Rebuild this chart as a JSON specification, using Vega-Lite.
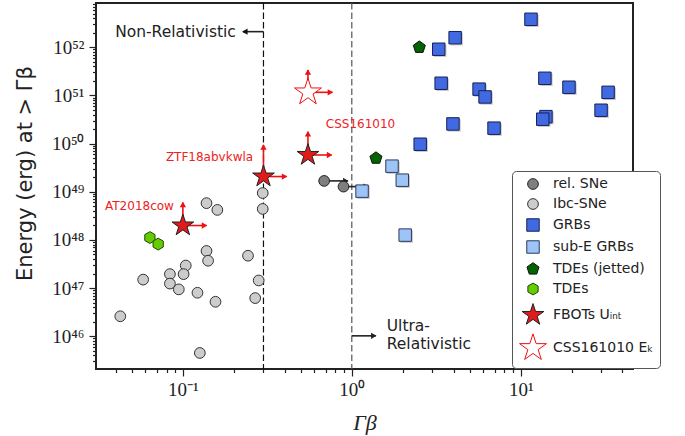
{
  "$schema": "https://vega.github.io/schema/vega-lite/v6.json",
  "width": 537,
  "height": 366,
  "autosize": "none",
  "padding": {"left": 96, "top": 3, "right": 52, "bottom": 67},
  "background": "white",
  "config": {
    "view": {"stroke": "#222", "strokeWidth": 2},
    "axis": {"grid": false, "domain": false, "tickColor": "#222", "tickWidth": 1.2, "labelColor": "#222", "titleColor": "#222"}
  },
  "datasets": {
    "pts": [
      {"g": "rel. SNe", "x": 0.686, "y": 1.68e49},
      {"g": "rel. SNe", "x": 0.893, "y": 1.28e49},
      {"g": "Ibc-SNe", "x": 0.138, "y": 5.8e48},
      {"g": "Ibc-SNe", "x": 0.160, "y": 4.2e48},
      {"g": "Ibc-SNe", "x": 0.297, "y": 9.4e48},
      {"g": "Ibc-SNe", "x": 0.297, "y": 4.4e48},
      {"g": "Ibc-SNe", "x": 0.138, "y": 5.9e47},
      {"g": "Ibc-SNe", "x": 0.141, "y": 3.7e47},
      {"g": "Ibc-SNe", "x": 0.243, "y": 4.7e47},
      {"g": "Ibc-SNe", "x": 0.0582, "y": 1.5e47},
      {"g": "Ibc-SNe", "x": 0.0838, "y": 1.95e47},
      {"g": "Ibc-SNe", "x": 0.0838, "y": 1.24e47},
      {"g": "Ibc-SNe", "x": 0.104, "y": 2.94e47},
      {"g": "Ibc-SNe", "x": 0.101, "y": 1.95e47},
      {"g": "Ibc-SNe", "x": 0.0946, "y": 9.4e46},
      {"g": "Ibc-SNe", "x": 0.122, "y": 8.0e46},
      {"g": "Ibc-SNe", "x": 0.156, "y": 5.2e46},
      {"g": "Ibc-SNe", "x": 0.281, "y": 1.44e47},
      {"g": "Ibc-SNe", "x": 0.268, "y": 6.2e46},
      {"g": "Ibc-SNe", "x": 0.0426, "y": 2.6e46},
      {"g": "Ibc-SNe", "x": 0.126, "y": 4.5e45},
      {"g": "GRBs", "x": 3.27, "y": 9.1e51},
      {"g": "GRBs", "x": 4.09, "y": 1.58e52},
      {"g": "GRBs", "x": 3.38, "y": 1.79e51},
      {"g": "GRBs", "x": 5.67, "y": 1.35e51},
      {"g": "GRBs", "x": 6.15, "y": 9.3e50},
      {"g": "GRBs", "x": 3.97, "y": 2.56e50},
      {"g": "GRBs", "x": 2.54, "y": 9.7e49},
      {"g": "GRBs", "x": 6.95, "y": 2.09e50},
      {"g": "GRBs", "x": 11.5, "y": 3.81e52},
      {"g": "GRBs", "x": 13.9, "y": 2.27e51},
      {"g": "GRBs", "x": 19.3, "y": 1.48e51},
      {"g": "GRBs", "x": 32.9, "y": 1.16e51},
      {"g": "GRBs", "x": 29.9, "y": 4.93e50},
      {"g": "GRBs", "x": 14.1, "y": 3.63e50},
      {"g": "GRBs", "x": 13.5, "y": 3.21e50},
      {"g": "sub-E GRBs", "x": 1.73, "y": 3.4e49},
      {"g": "sub-E GRBs", "x": 1.99, "y": 1.74e49},
      {"g": "sub-E GRBs", "x": 1.15, "y": 1.03e49},
      {"g": "sub-E GRBs", "x": 2.07, "y": 1.26e48},
      {"g": "TDEs (jetted)", "x": 2.51, "y": 1.0e52},
      {"g": "TDEs (jetted)", "x": 1.39, "y": 4.98e49},
      {"g": "TDEs", "x": 0.0638, "y": 1.12e48},
      {"g": "TDEs", "x": 0.0714, "y": 8.2e47},
      {"g": "FBOTs Uᵢₙₜ", "x": 0.1, "y": 1.99e48},
      {"g": "FBOTs Uᵢₙₜ", "x": 0.3, "y": 2.07e49},
      {"g": "FBOTs Uᵢₙₜ", "x": 0.55, "y": 5.8e49},
      {"g": "CSS161010 Eₖ", "x": 0.55, "y": 1.16e51}
    ],
    "arrows": [
      {"c": "fbot", "d": "up", "x": 0.1, "y": 1.99e48, "x2": 0.1, "y2": 5.97e48},
      {"c": "fbot", "d": "right", "x": 0.1, "y": 1.99e48, "x2": 0.138, "y2": 1.99e48},
      {"c": "fbot", "d": "up", "x": 0.3, "y": 2.07e49, "x2": 0.3, "y2": 9.4e49},
      {"c": "fbot", "d": "right", "x": 0.3, "y": 2.07e49, "x2": 0.411, "y2": 2.07e49},
      {"c": "fbot", "d": "up", "x": 0.55, "y": 5.8e49, "x2": 0.55, "y2": 1.77e50},
      {"c": "fbot", "d": "right", "x": 0.55, "y": 5.8e49, "x2": 0.759, "y2": 5.8e49},
      {"c": "fbot", "d": "up", "x": 0.55, "y": 1.16e51, "x2": 0.55, "y2": 3.38e51},
      {"c": "fbot", "d": "right", "x": 0.55, "y": 1.16e51, "x2": 0.768, "y2": 1.16e51},
      {"c": "rel", "d": "right", "x": 0.686, "y": 1.68e49, "x2": 0.947, "y2": 1.68e49},
      {"c": "rel", "d": "right", "x": 0.893, "y": 1.28e49, "x2": 1.249, "y2": 1.28e49},
      {"c": "guide", "d": "left", "x": 0.3, "y": 2.11e52, "x2": 0.2265, "y2": 2.11e52},
      {"c": "guide", "d": "right", "x": 1, "y": 1.02e46, "x2": 1.387, "y2": 1.02e46}
    ],
    "vlines": [
      {"x": 0.3, "k": "nr"},
      {"x": 1, "k": "ur"}
    ],
    "labels": [
      {"t": "Non-Relativistic", "x": 0.206, "y": 2.11e52, "k": "gR"},
      {"t": "Ultra-", "x": 1.61, "y": 1.67e46, "k": "gL"},
      {"t": "Relativistic", "x": 1.61, "y": 6.76e45, "k": "gL"},
      {"t": "AT2018cow", "x": 0.0885, "y": 5.1e48, "k": "rR"},
      {"t": "ZTF18abvkwla", "x": 0.2606, "y": 5.3e49, "k": "rR"},
      {"t": "CSS161010", "x": 0.7015, "y": 2.56e50, "k": "rL"}
    ]
  },
  "layer": [
    {
      "data": {"name": "vlines"},
      "mark": {"type": "rule", "strokeDash": [6.5, 3], "strokeWidth": 1.2},
      "encoding": {
        "x": {"field": "x", "type": "quantitative", "scale": {"type": "log", "domain": [0.0306, 46.2], "nice": false}},
        "color": {"condition": {"test": "datum.k == 'nr'", "value": "#111"}, "value": "#555"}
      }
    },
    {
      "data": {"name": "arrows"},
      "mark": {"type": "rule", "strokeWidth": 1.6},
      "encoding": {
        "x": {"field": "x", "type": "quantitative", "scale": {"type": "log", "domain": [0.0306, 46.2], "nice": false}},
        "y": {"field": "y", "type": "quantitative", "scale": {"type": "log", "domain": [2.09e45, 8.3e52], "nice": false}},
        "x2": {"field": "x2"},
        "y2": {"field": "y2"},
        "color": {"condition": {"test": "datum.c == 'fbot'", "value": "#ee1111"}, "value": "#222"}
      }
    },
    {
      "data": {"name": "arrows"},
      "transform": [{"filter": "datum.d == 'right'"}],
      "mark": {"type": "point", "shape": "triangle-right", "filled": true, "opacity": 1, "size": 40, "xOffset": -2},
      "encoding": {
        "x": {"field": "x2", "type": "quantitative", "scale": {"type": "log", "domain": [0.0306, 46.2], "nice": false}},
        "y": {"field": "y", "type": "quantitative", "scale": {"type": "log", "domain": [2.09e45, 8.3e52], "nice": false}},
        "color": {"condition": {"test": "datum.c == 'fbot'", "value": "#ee1111"}, "value": "#222"}
      }
    },
    {
      "data": {"name": "arrows"},
      "transform": [{"filter": "datum.d == 'left'"}],
      "mark": {"type": "point", "shape": "triangle-left", "filled": true, "opacity": 1, "size": 40, "xOffset": 2},
      "encoding": {
        "x": {"field": "x2", "type": "quantitative", "scale": {"type": "log", "domain": [0.0306, 46.2], "nice": false}},
        "y": {"field": "y", "type": "quantitative", "scale": {"type": "log", "domain": [2.09e45, 8.3e52], "nice": false}},
        "color": {"value": "#111"}
      }
    },
    {
      "data": {"name": "arrows"},
      "transform": [{"filter": "datum.d == 'up'"}],
      "mark": {"type": "point", "shape": "triangle-up", "filled": true, "opacity": 1, "size": 40, "yOffset": 2},
      "encoding": {
        "x": {"field": "x", "type": "quantitative", "scale": {"type": "log", "domain": [0.0306, 46.2], "nice": false}},
        "y": {"field": "y2", "type": "quantitative", "scale": {"type": "log", "domain": [2.09e45, 8.3e52], "nice": false}},
        "color": {"value": "#ee1111"}
      }
    },
    {
      "data": {"name": "pts"},
      "transform": [{"filter": "datum.g == 'GRBs' || datum.g == 'sub-E GRBs'"}],
      "mark": {"type": "point", "shape": "square", "filled": true, "color": "#9a9a9a", "opacity": 0.55, "size": 155, "xOffset": 1.5, "yOffset": 1.5},
      "encoding": {
        "x": {"field": "x", "type": "quantitative", "scale": {"type": "log", "domain": [0.0306, 46.2], "nice": false}},
        "y": {"field": "y", "type": "quantitative", "scale": {"type": "log", "domain": [2.09e45, 8.3e52], "nice": false}}
      }
    },
    {
      "data": {"name": "pts"},
      "mark": {"type": "point", "filled": true, "opacity": 1, "strokeWidth": 1},
      "encoding": {
        "x": {
          "field": "x", "type": "quantitative",
          "scale": {"type": "log", "domain": [0.0306, 46.2], "nice": false},
          "axis": {
            "title": "Γβ",
            "values": [0.04, 0.05, 0.06, 0.07, 0.08, 0.09, 0.1, 0.2, 0.3, 0.4, 0.5, 0.6, 0.7, 0.8, 0.9, 1, 2, 3, 4, 5, 6, 7, 8, 9, 10, 20, 30, 40],
            "labelExpr": "datum.value == 0.1 ? '10⁻¹' : datum.value == 1 ? '10⁰' : datum.value == 10 ? '10¹' : ''",
            "tickSize": {"condition": {"test": "datum.value == 0.1 || datum.value == 1 || datum.value == 10", "value": 7}, "value": 3.5},
            "labelOverlap": false,
            "labelBound": false,
            "labelFlush": false,
            "labelFont": "Liberation Serif",
            "labelFontSize": 19,
            "labelPadding": 4,
            "titleFont": "Liberation Serif",
            "titleFontSize": 22,
            "titleFontWeight": "normal",
            "titleFontStyle": "italic",
            "titleY": 53,
            "titleBaseline": "middle"
          }
        },
        "y": {
          "field": "y", "type": "quantitative",
          "scale": {"type": "log", "domain": [2.09e45, 8.3e52], "nice": false},
          "axis": {
            "title": "Energy (erg) at > Γβ",
            "values": [3e45, 4e45, 5e45, 6e45, 7e45, 8e45, 9e45, 1e46, 2e46, 3e46, 4e46, 5e46, 6e46, 7e46, 8e46, 9e46, 1e47, 2e47, 3e47, 4e47, 5e47, 6e47, 7e47, 8e47, 9e47, 1e48, 2e48, 3e48, 4e48, 5e48, 6e48, 7e48, 8e48, 9e48, 1e49, 2e49, 3e49, 4e49, 5e49, 6e49, 7e49, 8e49, 9e49, 1e50, 2e50, 3e50, 4e50, 5e50, 6e50, 7e50, 8e50, 9e50, 1e51, 2e51, 3e51, 4e51, 5e51, 6e51, 7e51, 8e51, 9e51, 1e52, 2e52, 3e52, 4e52, 5e52, 6e52, 7e52, 8e52],
            "labelExpr": "datum.value == 1e46 ? '10⁴⁶' : datum.value == 1e47 ? '10⁴⁷' : datum.value == 1e48 ? '10⁴⁸' : datum.value == 1e49 ? '10⁴⁹' : datum.value == 1e50 ? '10⁵⁰' : datum.value == 1e51 ? '10⁵¹' : datum.value == 1e52 ? '10⁵²' : ''",
            "tickSize": {"condition": {"test": "indexof([1e46, 1e47, 1e48, 1e49, 1e50, 1e51, 1e52], datum.value) >= 0", "value": 7}, "value": 3.5},
            "labelOverlap": false,
            "labelBound": false,
            "labelFlush": false,
            "labelFont": "Liberation Serif",
            "labelFontSize": 19,
            "labelPadding": 5,
            "titleFont": "DejaVu Sans",
            "titleFontSize": 21,
            "titleFontWeight": "normal",
            "titleAngle": 270,
            "titleX": -71,
            "titleY": 170,
            "titleAlign": "center",
            "titleBaseline": "middle"
          }
        },
        "shape": {
          "field": "g", "type": "nominal",
          "scale": {
            "domain": ["rel. SNe", "Ibc-SNe", "GRBs", "sub-E GRBs", "TDEs (jetted)", "TDEs", "FBOTs Uᵢₙₜ", "CSS161010 Eₖ"],
            "range": ["circle", "circle", "square", "square",
              "M0,-1L0.951,-0.309L0.588,0.809L-0.588,0.809L-0.951,-0.309Z",
              "M0,-1L0.866,-0.5L0.866,0.5L0,1L-0.866,0.5L-0.866,-0.5Z",
              "M0,-1L0.2245,-0.309L0.951,-0.309L0.363,0.118L0.588,0.809L0,0.382L-0.588,0.809L-0.363,0.118L-0.951,-0.309L-0.2245,-0.309Z",
              "M0,-1L0.2245,-0.309L0.951,-0.309L0.363,0.118L0.588,0.809L0,0.382L-0.588,0.809L-0.363,0.118L-0.951,-0.309L-0.2245,-0.309Z"]
          },
          "legend": {
            "title": null,
            "orient": "none",
            "legendX": 416,
            "legendY": 168,
            "labelFont": "DejaVu Sans",
            "labelFontSize": 14,
            "labelColor": "#222",
            "fillColor": "white",
            "strokeColor": "#555",
            "cornerRadius": 4,
            "padding": 6,
            "rowPadding": 4,
            "labelOffset": 5,
            "labelLimit": 200,
            "symbolStrokeWidth": 1
          }
        },
        "fill": {
          "field": "g", "type": "nominal",
          "scale": {
            "domain": ["rel. SNe", "Ibc-SNe", "GRBs", "sub-E GRBs", "TDEs (jetted)", "TDEs", "FBOTs Uᵢₙₜ", "CSS161010 Eₖ"],
            "range": ["#7f7f7f", "#cccccc", "#4169e1", "#9ec4f7", "#006400", "#66cc00", "#e01b1b", "#ffffff"]
          }
        },
        "stroke": {
          "field": "g", "type": "nominal",
          "scale": {
            "domain": ["rel. SNe", "Ibc-SNe", "GRBs", "sub-E GRBs", "TDEs (jetted)", "TDEs", "FBOTs Uᵢₙₜ", "CSS161010 Eₖ"],
            "range": ["#222222", "#333333", "#152158", "#2a3a60", "#111111", "#1d4a00", "#222222", "#ee1111"]
          }
        },
        "size": {
          "field": "g", "type": "nominal",
          "scale": {
            "type": "ordinal",
            "domain": ["rel. SNe", "Ibc-SNe", "GRBs", "sub-E GRBs", "TDEs (jetted)", "TDEs", "FBOTs Uᵢₙₜ", "CSS161010 Eₖ"],
            "range": [115, 115, 155, 155, 160, 140, 520, 800]
          }
        }
      }
    },
    {
      "data": {"name": "labels"},
      "transform": [{"filter": "datum.k == 'gR' || datum.k == 'rR'"}],
      "mark": {"type": "text", "align": "right", "baseline": "middle", "font": "DejaVu Sans"},
      "encoding": {
        "x": {"field": "x", "type": "quantitative", "scale": {"type": "log", "domain": [0.0306, 46.2], "nice": false}},
        "y": {"field": "y", "type": "quantitative", "scale": {"type": "log", "domain": [2.09e45, 8.3e52], "nice": false}},
        "text": {"field": "t"},
        "color": {"condition": {"test": "datum.k == 'rR'", "value": "#ee2222"}, "value": "#222"},
        "size": {"condition": {"test": "datum.k == 'rR'", "value": 12}, "value": 15.5}
      }
    },
    {
      "data": {"name": "labels"},
      "transform": [{"filter": "datum.k == 'gL' || datum.k == 'rL'"}],
      "mark": {"type": "text", "align": "left", "baseline": "middle", "font": "DejaVu Sans"},
      "encoding": {
        "x": {"field": "x", "type": "quantitative", "scale": {"type": "log", "domain": [0.0306, 46.2], "nice": false}},
        "y": {"field": "y", "type": "quantitative", "scale": {"type": "log", "domain": [2.09e45, 8.3e52], "nice": false}},
        "text": {"field": "t"},
        "color": {"condition": {"test": "datum.k == 'rL'", "value": "#ee2222"}, "value": "#222"},
        "size": {"condition": {"test": "datum.k == 'rL'", "value": 12}, "value": 15.5}
      }
    }
  ]
}
